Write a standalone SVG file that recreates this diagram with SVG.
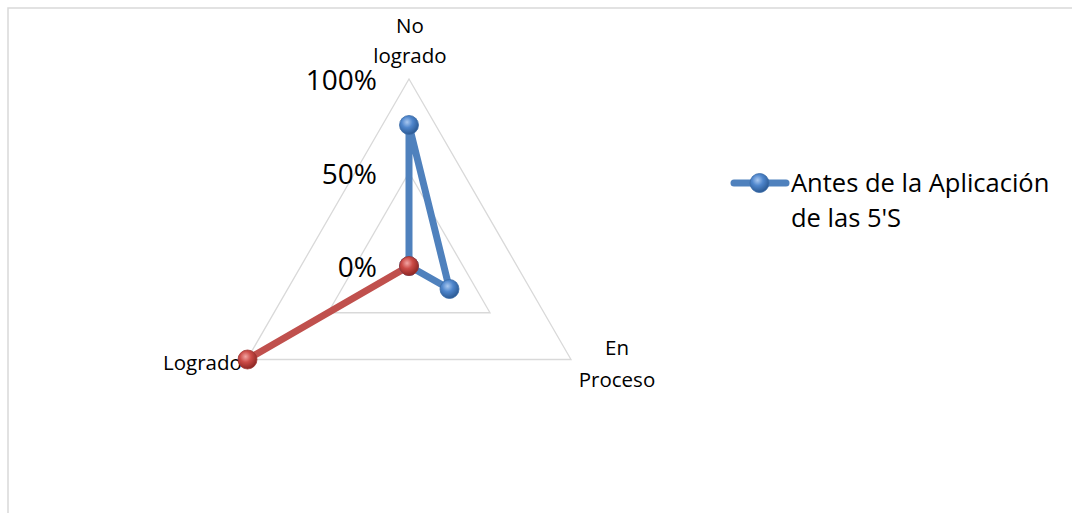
<svg xmlns="http://www.w3.org/2000/svg" width="1072" height="513" viewBox="0 0 1072 513">
<defs>
<radialGradient id="gBlue" cx="0.4" cy="0.35" r="0.65">
<stop offset="0" stop-color="#A9C8F0"/>
<stop offset="0.45" stop-color="#4F86CC"/>
<stop offset="1" stop-color="#2B5A94"/>
</radialGradient>
<radialGradient id="gRed" cx="0.4" cy="0.35" r="0.65">
<stop offset="0" stop-color="#F2A5A3"/>
<stop offset="0.45" stop-color="#CC4B47"/>
<stop offset="1" stop-color="#8E2724"/>
</radialGradient>
<style>
.grid{fill:none;stroke:#D9D9D9;stroke-width:1.3}
.frame{fill:none;stroke:#D9D9D9;stroke-width:1.5}
.lbl{font-family:"Open Sans","Liberation Sans",sans-serif;font-size:20.5px;fill:#000}
.tick{font-family:"Open Sans","Liberation Sans",sans-serif;font-size:28px;fill:#000;text-anchor:end}
.leg{font-family:"Open Sans","Liberation Sans",sans-serif;font-size:25.5px;fill:#000}
.blue{fill:none;stroke:#4F81BD;stroke-width:7;stroke-linejoin:round;stroke-linecap:round}
.red{fill:none;stroke:#C0504D;stroke-width:7;stroke-linejoin:round;stroke-linecap:round}
.mb{fill:url(#gBlue);stroke:#3B6CA8;stroke-width:0.8}
.mr{fill:url(#gRed);stroke:#9E3532;stroke-width:0.8}
</style>
</defs>
<rect width="1072" height="513" fill="#FFFFFF"/>
<path class="frame" d="M8 513 V8 H1072"/>
<g id="grid">
<polygon class="grid" points="409,79 571,359.5 247,359.5"/>
<polygon class="grid" points="409,172.5 490,312.75 328,312.75"/>
</g>
<g id="ticks">
<text class="tick" x="377" y="90">100%</text>
<text class="tick" x="377" y="184">50%</text>
<text class="tick" x="377" y="277">0%</text>
</g>
<g id="axis-no-logrado">
<text class="lbl" x="410" y="33" text-anchor="middle">No</text>
<text class="lbl" x="410" y="63" text-anchor="middle">logrado</text>
</g>
<g id="axis-en-proceso">
<text class="lbl" x="617" y="355" text-anchor="middle">En</text>
<text class="lbl" x="617" y="387" text-anchor="middle">Proceso</text>
</g>
<g id="axis-logrado">
<text class="lbl" x="163" y="370">Logrado</text>
</g>
<g id="connectors">
<polyline class="blue" points="409,266 409,125 449.5,289 409,266"/>
<polyline class="red" points="247,359.5 409,266"/>
</g>
<g id="series-blue">
<circle class="mb" cx="409" cy="125" r="9.5"/>
<circle class="mb" cx="449.5" cy="289" r="9.5"/>
<circle class="mb" cx="409" cy="266" r="9.5"/>
</g>
<g id="series-red">
<circle class="mr" cx="409" cy="266" r="9.5"/>
<circle class="mr" cx="247.5" cy="359.5" r="9.5"/>
</g>
<g id="legend">
<line class="blue" x1="734" y1="183" x2="786" y2="183" stroke-width="6"/>
<circle class="mb" cx="759.5" cy="183" r="9.5"/>
<text class="leg" x="791" y="192">Antes de la Aplicación</text>
<text class="leg" x="791" y="227">de las 5'S</text>
</g>
</svg>
